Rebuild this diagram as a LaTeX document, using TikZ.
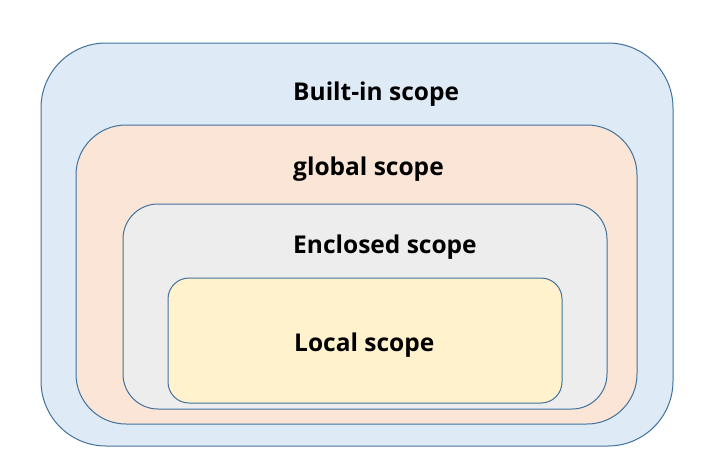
\documentclass[tikz,border=0pt]{standalone}
\usepackage{fontspec}
\setmainfont{Open Sans}
\definecolor{edge}{HTML}{41719C}
\definecolor{fblue}{HTML}{DEEBF7}
\definecolor{forange}{HTML}{FBE5D6}
\definecolor{fgray}{HTML}{EDEDED}
\definecolor{fyellow}{HTML}{FFF2CC}
\tikzset{
  scopebox/.style={draw=edge, line width=1pt},
  lbl/.style={anchor=base west, inner sep=0pt, font=\fontsize{24.5}{28}\selectfont\bfseries}
}
\begin{document}
\begin{tikzpicture}[x=1pt,y=-1pt]
\useasboundingbox (0,0) rectangle (725,469);
\draw[scopebox, fill=fblue, rounded corners=65pt] (41,43) rectangle (673,446);
\draw[scopebox, fill=forange, rounded corners=50pt] (76,125) rectangle (637,424);
\draw[scopebox, fill=fgray, rounded corners=35pt] (123,204) rectangle (607,409);
\draw[scopebox, fill=fyellow, rounded corners=21pt] (168,278) rectangle (562,403);
\node[lbl] (b) at (293,100) {Built-in scope};
\node[lbl] (g) at (293,175) {global scope};
\node[lbl] (e) at (293,253) {Enclosed scope};
\node[lbl] (l) at (294,351) {Local scope};
\end{tikzpicture}
\end{document}
